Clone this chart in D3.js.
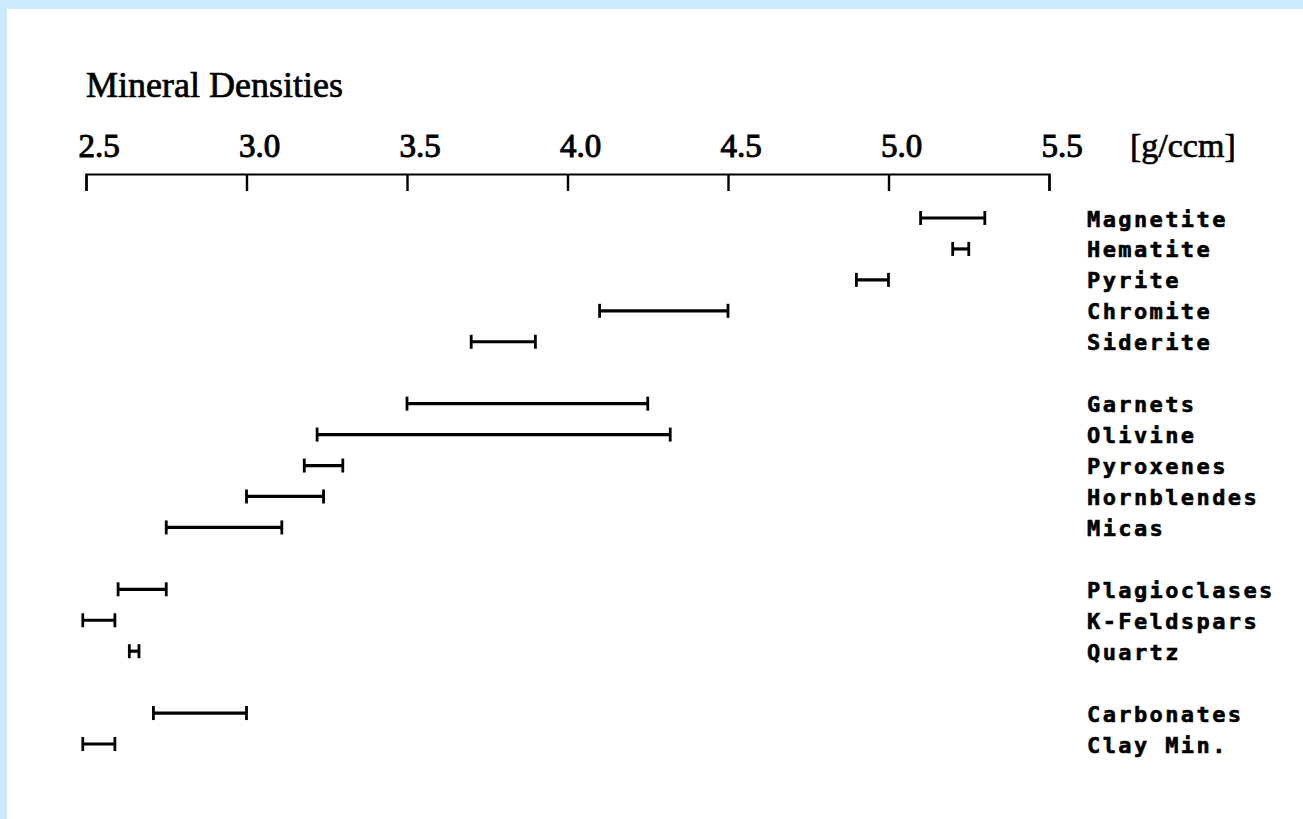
<!DOCTYPE html>
<html>
<head>
<meta charset="utf-8">
<script src="https://cdn.jsdelivr.net/npm/d3@7"></script>
<style>
  html, body { margin: 0; padding: 0; background: #cceaff; }
  #viz { position: absolute; left: 7px; top: 9px; width: 1296px; height: 810px; background: #fff; }
  svg { display: block; }
</style>
</head>
<body>
<div id="viz"></div>
<script>
// data: density ranges in g/ccm
var minerals = ['Magnetite', 'Hematite', 'Pyrite', 'Chromite', 'Siderite',
                'Garnets', 'Olivine', 'Pyroxenes', 'Hornblendes', 'Micas',
                'Plagioclases', 'K-Feldspars', 'Quartz',
                'Carbonates', 'Clay Min.'];
var lowValues  = [5.10, 5.20, 4.90, 4.10, 3.70,
                  3.50, 3.22, 3.18, 3.00, 2.75,
                  2.60, 2.49, 2.635,
                  2.71, 2.49];
var highValues = [5.30, 5.25, 5.00, 4.50, 3.90,
                  4.25, 4.32, 3.30, 3.24, 3.11,
                  2.75, 2.59, 2.665,
                  3.00, 2.59];
// how many minerals per block (blank row between blocks)
var groupSizes = [5, 5, 3, 2];
var tickValues = [2.5, 3.0, 3.5, 4.0, 4.5, 5.0, 5.5];
var unitLabel = '[g/ccm]';
var title = 'Mineral Densities';

// row slot for each mineral, skipping one slot between groups
var slots = [];
var s = 0;
groupSizes.forEach(function(n) {
  for (var k = 0; k < n; k++) { slots.push(s); s++; }
  s++;
});
var nSlots = s - 1;

// svg sits inside the white panel (offset 7,9 in the page)
var svg = d3.select('#viz').append('svg')
  .attr('width', 1296)
  .attr('height', 810);

var ox = -7, oy = -9; // page coords -> svg coords
var serif = '"Liberation Serif", "Times New Roman", serif';

var x = d3.scaleLinear()
  .domain([2.5, 5.5])
  .range([86 + ox, 1049 + ox]);

var y = d3.scaleLinear()
  .domain([0, nSlots - 1])
  .range([218 + oy, 744 + oy]);

// title
svg.append('text')
  .attr('x', 86 + ox)
  .attr('y', 97 + oy)
  .attr('stroke', '#000')
  .attr('stroke-width', 0.7)
  .style('font-family', serif)
  .style('font-size', '36px')
  .text(title);

// axis with ticks hanging down and labels above
var axis = svg.append('g')
  .attr('class', 'axis')
  .attr('transform', 'translate(0,' + (174 + oy) + ')')
  .call(d3.axisBottom(x).tickValues(tickValues).tickSize(17).tickSizeOuter(17)
    .tickFormat(d3.format('.1f')));

axis.select('.domain')
  .attr('stroke', '#000')
  .attr('stroke-width', 2.2);
axis.selectAll('.tick line')
  .attr('stroke', '#000')
  .attr('stroke-width', 2.4);
axis.selectAll('.tick text')
  .attr('y', -17)
  .attr('dy', 0)
  .attr('x', -8)
  .attr('text-anchor', 'start')
  .attr('fill', '#000')
  .attr('stroke', '#000')
  .attr('stroke-width', 1)
  .style('font-family', serif)
  .style('font-size', '33px');

svg.append('text')
  .attr('x', 1130 + ox)
  .attr('y', 157 + oy)
  .attr('stroke', '#000')
  .attr('stroke-width', 0.7)
  .style('font-family', serif)
  .style('font-size', '34px')
  .text(unitLabel);

// range bars
var rows = minerals.map(function(m, i) {
  return { name: m, lo: lowValues[i], hi: highValues[i], slot: slots[i] };
});

var bar = svg.selectAll('.range')
  .data(rows)
  .enter().append('g')
  .attr('class', 'range')
  .attr('transform', function(d) { return 'translate(0,' + y(d.slot) + ')'; });

bar.append('line')
  .attr('x1', function(d) { return x(d.lo); })
  .attr('x2', function(d) { return x(d.hi); })
  .attr('stroke', '#000')
  .attr('stroke-width', 3.2);

bar.selectAll('.cap')
  .data(function(d) { return [d.lo, d.hi]; })
  .enter().append('line')
  .attr('class', 'cap')
  .attr('x1', function(v) { return x(v); })
  .attr('x2', function(v) { return x(v); })
  .attr('y1', -7)
  .attr('y2', 7)
  .attr('stroke', '#000')
  .attr('stroke-width', 2.8);

// mineral names on the right
bar.append('text')
  .attr('x', 1087 + ox)
  .attr('y', 8.5)
  .attr('stroke', '#000')
  .attr('stroke-width', 0.6)
  .style('font-family', '"DejaVu Sans Mono", monospace')
  .style('font-weight', 'bold')
  .style('font-size', '22px')
  .style('letter-spacing', '2.4px')
  .text(function(d) { return d.name; });
</script>
</body>
</html>
